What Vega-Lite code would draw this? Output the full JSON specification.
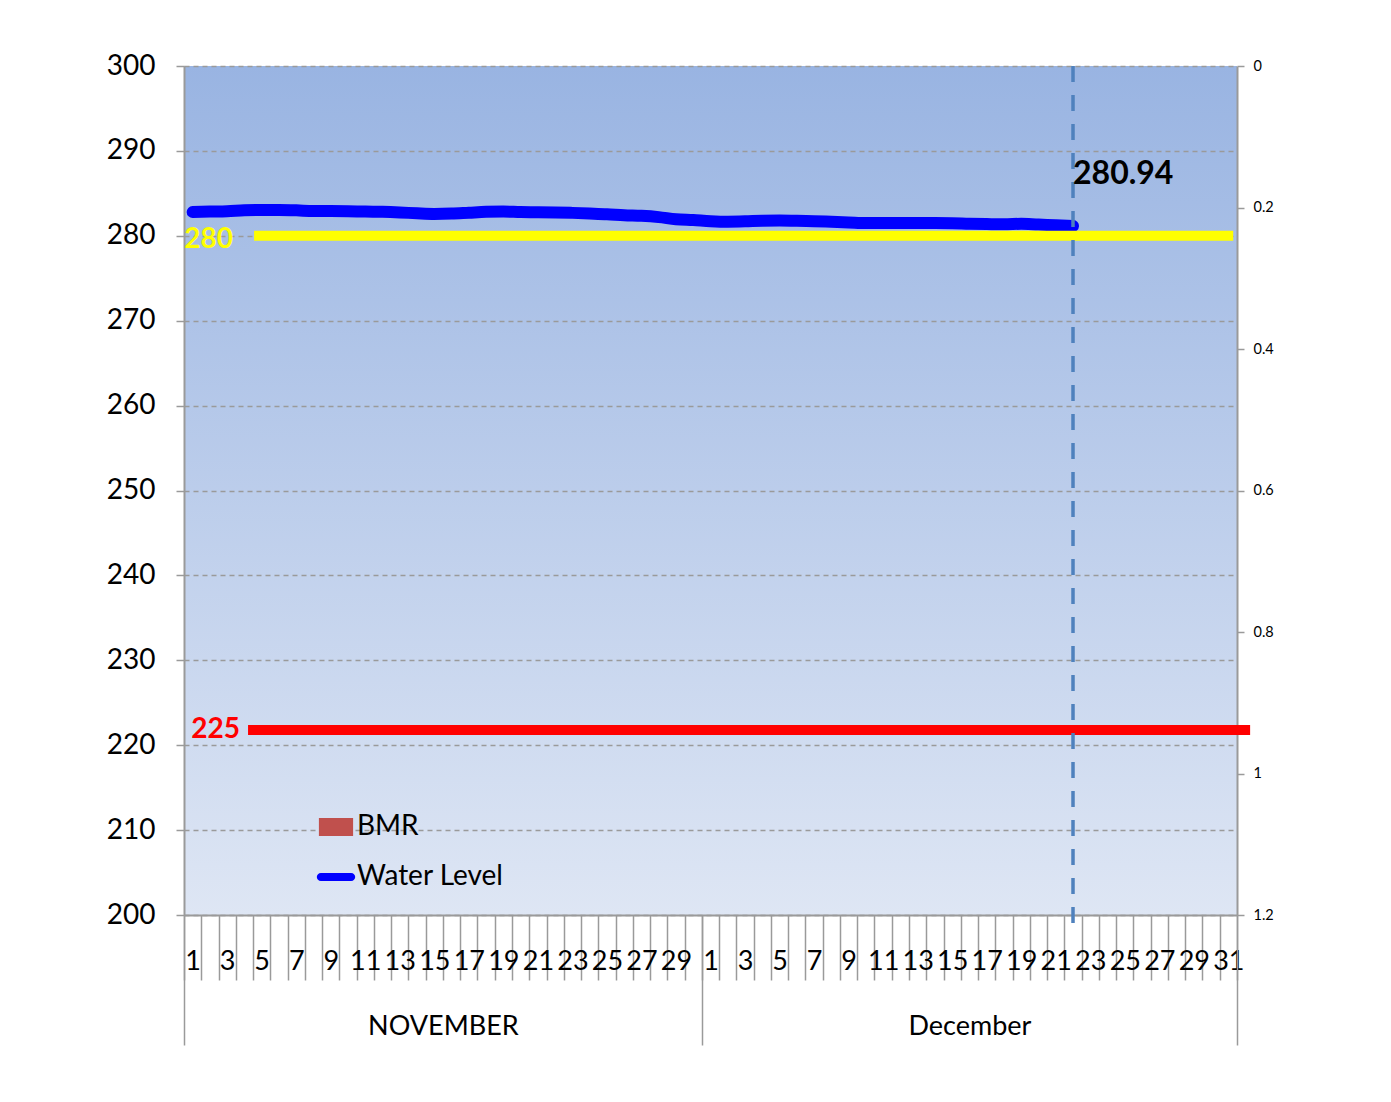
{
  "$schema": "https://vega.github.io/schema/vega-lite/v6.json",
  "width": 1053,
  "height": 849,
  "autosize": {"type": "none"},
  "padding": {"left": 184, "top": 66, "right": 154, "bottom": 187},
  "background": "white",
  "config": {
    "view": {
      "stroke": null,
      "fill": {"gradient": "linear", "x1": 0, "y1": 0, "x2": 0, "y2": 1,
        "stops": [{"offset": 0, "color": "#99B4E2"}, {"offset": 1, "color": "#DEE6F4"}]}
    },
    "scale": {"continuousPadding": 0},
    "font": "Lato"
  },
  "datasets": {
    "level": [
      {"idx": 1, "level": 282.80}, {"idx": 2, "level": 282.85}, {"idx": 3, "level": 282.90},
      {"idx": 4, "level": 283.00}, {"idx": 5, "level": 283.04}, {"idx": 6, "level": 283.04},
      {"idx": 7, "level": 283.00}, {"idx": 8, "level": 282.92}, {"idx": 9, "level": 282.92},
      {"idx": 10, "level": 282.90}, {"idx": 11, "level": 282.85}, {"idx": 12, "level": 282.82},
      {"idx": 13, "level": 282.75}, {"idx": 14, "level": 282.65}, {"idx": 15, "level": 282.58},
      {"idx": 16, "level": 282.62}, {"idx": 17, "level": 282.72}, {"idx": 18, "level": 282.82},
      {"idx": 19, "level": 282.85}, {"idx": 20, "level": 282.80}, {"idx": 21, "level": 282.78},
      {"idx": 22, "level": 282.75}, {"idx": 23, "level": 282.70}, {"idx": 24, "level": 282.63},
      {"idx": 25, "level": 282.55}, {"idx": 26, "level": 282.42}, {"idx": 27, "level": 282.35},
      {"idx": 28, "level": 282.20}, {"idx": 29, "level": 281.95}, {"idx": 30, "level": 281.85},
      {"idx": 31, "level": 281.72}, {"idx": 32, "level": 281.66}, {"idx": 33, "level": 281.70},
      {"idx": 34, "level": 281.78}, {"idx": 35, "level": 281.80}, {"idx": 36, "level": 281.76},
      {"idx": 37, "level": 281.72}, {"idx": 38, "level": 281.65}, {"idx": 39, "level": 281.58},
      {"idx": 40, "level": 281.50}, {"idx": 41, "level": 281.50}, {"idx": 42, "level": 281.50},
      {"idx": 43, "level": 281.50}, {"idx": 44, "level": 281.50}, {"idx": 45, "level": 281.48},
      {"idx": 46, "level": 281.42}, {"idx": 47, "level": 281.38}, {"idx": 48, "level": 281.35},
      {"idx": 49, "level": 281.42}, {"idx": 50, "level": 281.32}, {"idx": 51, "level": 281.25},
      {"idx": 52, "level": 281.15}
    ],
    "bmr": [
      {"idx": 1, "bmr": 0, "series": "BMR"}, {"idx": 2, "bmr": 0, "series": "BMR"}, {"idx": 3, "bmr": 0, "series": "BMR"},
      {"idx": 4, "bmr": 0, "series": "BMR"}, {"idx": 5, "bmr": 0, "series": "BMR"}, {"idx": 6, "bmr": 0, "series": "BMR"},
      {"idx": 7, "bmr": 0, "series": "BMR"}, {"idx": 8, "bmr": 0, "series": "BMR"}, {"idx": 9, "bmr": 0, "series": "BMR"},
      {"idx": 10, "bmr": 0, "series": "BMR"}, {"idx": 11, "bmr": 0, "series": "BMR"}, {"idx": 12, "bmr": 0, "series": "BMR"},
      {"idx": 13, "bmr": 0, "series": "BMR"}, {"idx": 14, "bmr": 0, "series": "BMR"}, {"idx": 15, "bmr": 0, "series": "BMR"},
      {"idx": 16, "bmr": 0, "series": "BMR"}, {"idx": 17, "bmr": 0, "series": "BMR"}, {"idx": 18, "bmr": 0, "series": "BMR"},
      {"idx": 19, "bmr": 0, "series": "BMR"}, {"idx": 20, "bmr": 0, "series": "BMR"}, {"idx": 21, "bmr": 0, "series": "BMR"},
      {"idx": 22, "bmr": 0, "series": "BMR"}, {"idx": 23, "bmr": 0, "series": "BMR"}, {"idx": 24, "bmr": 0, "series": "BMR"},
      {"idx": 25, "bmr": 0, "series": "BMR"}, {"idx": 26, "bmr": 0, "series": "BMR"}, {"idx": 27, "bmr": 0, "series": "BMR"},
      {"idx": 28, "bmr": 0, "series": "BMR"}, {"idx": 29, "bmr": 0, "series": "BMR"}, {"idx": 30, "bmr": 0, "series": "BMR"},
      {"idx": 31, "bmr": 0, "series": "BMR"}, {"idx": 32, "bmr": 0, "series": "BMR"}, {"idx": 33, "bmr": 0, "series": "BMR"},
      {"idx": 34, "bmr": 0, "series": "BMR"}, {"idx": 35, "bmr": 0, "series": "BMR"}, {"idx": 36, "bmr": 0, "series": "BMR"},
      {"idx": 37, "bmr": 0, "series": "BMR"}, {"idx": 38, "bmr": 0, "series": "BMR"}, {"idx": 39, "bmr": 0, "series": "BMR"},
      {"idx": 40, "bmr": 0, "series": "BMR"}, {"idx": 41, "bmr": 0, "series": "BMR"}, {"idx": 42, "bmr": 0, "series": "BMR"},
      {"idx": 43, "bmr": 0, "series": "BMR"}, {"idx": 44, "bmr": 0, "series": "BMR"}, {"idx": 45, "bmr": 0, "series": "BMR"},
      {"idx": 46, "bmr": 0, "series": "BMR"}, {"idx": 47, "bmr": 0, "series": "BMR"}, {"idx": 48, "bmr": 0, "series": "BMR"},
      {"idx": 49, "bmr": 0, "series": "BMR"}, {"idx": 50, "bmr": 0, "series": "BMR"}, {"idx": 51, "bmr": 0, "series": "BMR"},
      {"idx": 52, "bmr": 0, "series": "BMR"}
    ],
    "refs": [
      {"name": "280", "level": 280, "x1": 4.56, "x2": 61.28},
      {"name": "225", "level": 221.8, "x1": 4.21, "x2": 62.26}
    ],
    "latest": [
      {"idx": 52, "reading": 280.94}
    ]
  },
  "layer": [
    {
      "layer": [
        {
          "data": {"name": "level"},
          "mark": {"type": "line", "interpolate": "monotone", "strokeWidth": 12, "strokeCap": "round", "color": "#0000FF"},
          "encoding": {
            "x": {
              "field": "idx", "type": "quantitative", "title": null,
              "scale": {"domain": [0.5, 61.5], "nice": false, "zero": false, "padding": 0},
              "axis": {
                "orient": "bottom",
                "values": [0.5,1.5,2.5,3.5,4.5,5.5,6.5,7.5,8.5,9.5,10.5,11.5,12.5,13.5,14.5,15.5,16.5,17.5,18.5,19.5,20.5,21.5,22.5,23.5,24.5,25.5,26.5,27.5,28.5,29.5,30.5,31.5,32.5,33.5,34.5,35.5,36.5,37.5,38.5,39.5,40.5,41.5,42.5,43.5,44.5,45.5,46.5,47.5,48.5,49.5,50.5,51.5,52.5,53.5,54.5,55.5,56.5,57.5,58.5,59.5,60.5,61.5],
                "tickCount": 200,
                "labelExpr": "(datum.value + 0.5) % 2 == 1 && datum.value < 61 ? ((datum.value + 0.5) <= 30 ? '' + (datum.value + 0.5) : '' + (datum.value + 0.5 - 30)) : ''",
                "labelOffset": 8.63,
                "labelAlign": "center",
                "labelBaseline": "top",
                "labelPadding": -32,
                "labelFontSize": 27,
                "labelFont": "Lato",
                "labelColor": "#000000",
                "labelOverlap": false,
                "labelBound": false,
                "labelFlush": false,
                "tickSize": 65,
                "tickColor": "#9A9A9A",
                "tickWidth": 1.5,
                "domainColor": "#9A9A9A",
                "domainWidth": 2,
                "grid": false
              }
            },
            "y": {
              "field": "level", "type": "quantitative", "title": null,
              "scale": {"domain": [200, 300], "nice": false, "zero": false},
              "axis": {
                "orient": "left",
                "values": [200, 210, 220, 230, 240, 250, 260, 270, 280, 290, 300],
                "labelFontSize": 28,
                "labelFont": "Lato",
                "labelColor": "#000000",
                "labelPadding": 21,
                "tickSize": 8,
                "tickColor": "#9A9A9A",
                "tickWidth": 1.5,
                "domainColor": "#9A9A9A",
                "domainWidth": 2,
                "grid": true,
                "gridDash": [5, 4],
                "gridColor": "#9A9A9A",
                "gridWidth": 1.3
              }
            }
          }
        },
        {
          "data": {"name": "refs"},
          "transform": [{"filter": "datum.name == '280'"}],
          "layer": [
            {
              "mark": {"type": "rule", "strokeWidth": 10, "color": "#FFFF00", "strokeCap": "butt"},
              "encoding": {
                "x": {"field": "x1", "type": "quantitative", "title": null, "scale": {"domain": [0.5, 61.5], "nice": false, "zero": false, "padding": 0}},
                "x2": {"field": "x2"},
                "y": {"field": "level", "type": "quantitative", "title": null, "scale": {"domain": [200, 300], "nice": false, "zero": false}}
              }
            },
            {
              "mark": {"type": "text", "color": "#FFFF00", "fontSize": 28, "fontWeight": "bold", "font": "Lato", "align": "right", "baseline": "middle", "dx": -21, "dy": 4},
              "encoding": {
                "x": {"field": "x1", "type": "quantitative", "title": null, "scale": {"domain": [0.5, 61.5], "nice": false, "zero": false, "padding": 0}},
                "y": {"field": "level", "type": "quantitative", "title": null, "scale": {"domain": [200, 300], "nice": false, "zero": false}},
                "text": {"field": "name"}
              }
            }
          ]
        },
        {
          "data": {"name": "refs"},
          "transform": [{"filter": "datum.name == '225'"}],
          "layer": [
            {
              "mark": {"type": "rule", "strokeWidth": 10, "color": "#FF0000", "strokeCap": "butt"},
              "encoding": {
                "x": {"field": "x1", "type": "quantitative", "title": null, "scale": {"domain": [0.5, 61.5], "nice": false, "zero": false, "padding": 0}},
                "x2": {"field": "x2"},
                "y": {"field": "level", "type": "quantitative", "title": null, "scale": {"domain": [200, 300], "nice": false, "zero": false}}
              }
            },
            {
              "mark": {"type": "text", "color": "#FF0000", "fontSize": 28, "fontWeight": "bold", "font": "Lato", "align": "right", "baseline": "middle", "dx": -8, "dy": 0},
              "encoding": {
                "x": {"field": "x1", "type": "quantitative", "title": null, "scale": {"domain": [0.5, 61.5], "nice": false, "zero": false, "padding": 0}},
                "y": {"field": "level", "type": "quantitative", "title": null, "scale": {"domain": [200, 300], "nice": false, "zero": false}},
                "text": {"field": "name"}
              }
            }
          ]
        },
        {
          "data": {"name": "latest"},
          "layer": [
            {
              "mark": {"type": "rule", "strokeWidth": 3.5, "color": "#4F81BD", "strokeDash": [16, 13]},
              "encoding": {
                "x": {"field": "idx", "type": "quantitative", "title": null, "scale": {"domain": [0.5, 61.5], "nice": false, "zero": false, "padding": 0}},
                "y": {"datum": 300, "type": "quantitative", "title": null, "scale": {"domain": [200, 300], "nice": false, "zero": false}},
                "y2": {"datum": 198.8}
              }
            },
            {
              "mark": {"type": "text", "color": "#000000", "fontSize": 32, "fontWeight": "bold", "font": "Lato", "align": "left", "baseline": "middle", "dx": 0, "dy": -54},
              "encoding": {
                "x": {"field": "idx", "type": "quantitative", "title": null, "scale": {"domain": [0.5, 61.5], "nice": false, "zero": false, "padding": 0}},
                "y": {"field": "reading", "type": "quantitative", "title": null, "scale": {"domain": [200, 300], "nice": false, "zero": false}},
                "text": {"field": "reading", "format": ".2f"}
              }
            }
          ]
        }
      ]
    },
    {
      "data": {"name": "bmr"},
      "mark": {"type": "bar"},
      "encoding": {
        "x": {
          "field": "idx", "type": "quantitative", "title": null,
          "scale": {"domain": [0.5, 61.5], "nice": false, "zero": false, "padding": 0},
          "axis": {
            "orient": "bottom",
            "values": [0.5, 30.5, 61.5],
            "tickCount": 200,
            "labelExpr": "datum.value < 1 ? 'NOVEMBER' : (datum.value < 31 ? 'December' : '')",
            "labelOffset": {"condition": {"test": "datum.value < 1", "value": 258.9}, "value": 267.5},
            "labelAlign": "center",
            "labelBaseline": "top",
            "labelPadding": -32,
            "labelFontSize": 27,
            "labelFont": "Lato",
            "labelColor": "#000000",
            "labelOverlap": false,
            "labelBound": false,
            "labelFlush": false,
            "tickSize": 130,
            "tickColor": "#9A9A9A",
            "tickWidth": 1.5,
            "domain": false,
            "grid": false
          }
        },
        "y": {
          "field": "bmr", "type": "quantitative", "title": null,
          "scale": {"domain": [0, 1.2], "reverse": true, "nice": false, "zero": true},
          "axis": {
            "orient": "right",
            "values": [0, 0.2, 0.4, 0.6, 0.8, 1, 1.2],
            "format": ".1~f",
            "labelFontSize": 14.5,
            "labelFont": "Lato",
            "labelColor": "#000000",
            "labelPadding": 9,
            "tickSize": 7,
            "tickColor": "#9A9A9A",
            "tickWidth": 1.5,
            "domainColor": "#9A9A9A",
            "domainWidth": 2,
            "grid": false
          }
        },
        "color": {
          "field": "series", "type": "nominal",
          "scale": {"domain": ["BMR", "Water Level"], "range": ["#C0504D", "#0000FF"]},
          "legend": {
            "title": null,
            "orient": "none",
            "legendX": 133,
            "legendY": 742,
            "padding": 0,
            "symbolSize": 1444,
            "symbolStrokeWidth": 0,
            "labelFontSize": 28,
            "labelFont": "Lato",
            "labelColor": "#000000",
            "labelOffset": 2,
            "labelLimit": 400,
            "rowPadding": 17,
            "encode": {
              "symbols": {
                "update": {
                  "shape": {"signal": "datum.value === 'BMR' ? 'M-0.9,-0.47H0.9V0.47H-0.9Z' : 'M-0.8,-0.21H0.8A0.21,0.21 0 0 1 0.8,0.21H-0.8A0.21,0.21 0 0 1 -0.8,-0.21Z'"}
                }
              }
            }
          }
        }
      }
    }
  ],
  "resolve": {"scale": {"y": "independent"}, "axis": {"x": "independent"}}
}
